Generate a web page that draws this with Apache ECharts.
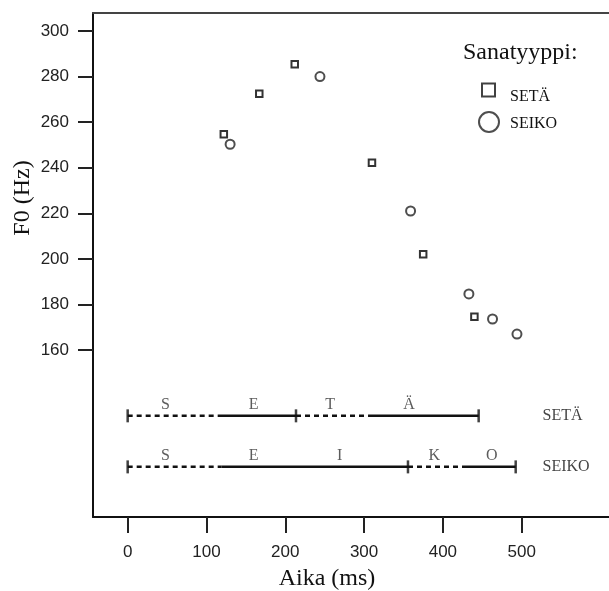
<!DOCTYPE html>
<html>
<head>
<meta charset="utf-8">
<script src="https://cdn.jsdelivr.net/npm/echarts@6/dist/echarts.min.js"></script>
<style>
  html, body { margin: 0; padding: 0; background: #fff; }
  #chart { width: 609px; height: 591px; }
</style>
</head>
<body>
<div id="chart"></div>
<script>
// pisteet (ms, Hz)
const setaX = [122, 167, 212, 310, 375, 440]
const setaY = [254.7, 272.5, 285.4, 242.2, 202, 174.6]
const seikoX = [130, 244, 359, 433, 463, 494]
const seikoY = [250.3, 280, 221, 184.6, 173.6, 167]

// akselin jaot
const xTicks = [0, 100, 200, 300, 400, 500]
const yTicks = [160, 180, 200, 220, 240, 260, 280, 300]

// segmentit: rajat (ms), viivatyyli, äänteet ja niiden kohdat
const rowNames = ['SETÄ', 'SEIKO']
const rowY = [131.1, 108.7]
const setaBounds = [0, 114.6, 213.6, 306.2, 445.4]
const setaStyles = ['dashed', 'solid', 'dashed', 'solid']
const setaTickAt = [0, 213.6, 445.4]
const setaPhones = ['S', 'E', 'T', 'Ä']
const setaPhoneX = [48, 160, 257, 357]
const seikoBounds = [0, 119.3, 355.7, 425.5, 492.4]
const seikoStyles = ['dashed', 'solid', 'dashed', 'solid']
const seikoTickAt = [0, 355.7, 492.4]
const seikoPhones = ['S', 'E', 'I', 'K', 'O']
const seikoPhoneX = [48, 160, 269, 389, 462]
const rowNameX = 526.5

const ink = '#111'
const serif = 'Liberation Serif'

const segSeries = []
function addRow(bounds, styles, y) {
  for (let i = 0; i < styles.length; i++) {
    segSeries.push({
      type: 'line',
      silent: true,
      showSymbol: false,
      symbol: 'none',
      data: [[bounds[i], y], [bounds[i + 1], y]],
      lineStyle: {
        color: ink,
        width: 2.5,
        type: styles[i] === 'dashed' ? [5, 4] : 'solid'
      },
      z: 3
    })
  }
}
addRow(setaBounds, setaStyles, rowY[0])
addRow(seikoBounds, seikoStyles, rowY[1])

const tickData = setaTickAt.map(v => [v, rowY[0]]).concat(seikoTickAt.map(v => [v, rowY[1]]))
const phoneData = setaPhones.map((p, i) => [setaPhoneX[i], rowY[0], p])
  .concat(seikoPhones.map((p, i) => [seikoPhoneX[i], rowY[1], p]))
const rowNameData = rowNames.map((n, i) => [rowNameX, rowY[i], n])

const chart = echarts.init(document.getElementById('chart'))

const option = {
  animation: false,
  title: {
    text: 'Sanatyyppi:',
    left: 463,
    top: 41,
    padding: 0,
    textStyle: { fontFamily: serif, fontSize: 24, fontWeight: 'normal', color: ink }
  },
  legend: [
    {
      data: [{ name: 'SETÄ', icon: 'rect' }],
      left: 481,
      top: 82.5,
      padding: 0,
      itemWidth: 13,
      itemHeight: 13,
      itemStyle: { color: '#fff', borderColor: ink, borderWidth: 2 },
      formatter: '{t|{name}}',
      textStyle: {
        rich: { t: { fontFamily: serif, fontSize: 16, color: ink, padding: [14, 0, 0, 10] } }
      }
    },
    {
      data: [{ name: 'SEIKO', icon: 'circle' }],
      left: 478,
      top: 111,
      padding: 0,
      itemWidth: 20,
      itemHeight: 20,
      itemStyle: { color: '#fff', borderColor: '#222', borderWidth: 2 },
      formatter: '{t|{name}}',
      textStyle: {
        rich: { t: { fontFamily: serif, fontSize: 16, color: ink, padding: [3, 0, 0, 6] } }
      }
    }
  ],
  grid: {
    left: 93,
    top: 13,
    right: 0,
    bottom: 74
  },
  xAxis: [
    {
      type: 'value',
      min: -44,
      max: 610.8,
      axisLine: { show: true, onZero: false, lineStyle: { color: ink, width: 2 } },
      axisTick: { show: true, length: 16, customValues: xTicks, lineStyle: { color: '#222', width: 2 } },
      axisLabel: { customValues: xTicks, margin: 27, color: '#222', fontFamily: 'Liberation Sans', fontSize: 17 },
      splitLine: { show: false }
    },
    {
      type: 'value',
      position: 'top',
      min: -44,
      max: 610.8,
      axisLine: { show: true, onZero: false, lineStyle: { color: '#444', width: 2 } },
      axisTick: { show: false },
      axisLabel: { show: false },
      splitLine: { show: false }
    }
  ],
  yAxis: {
    type: 'value',
    min: 86.7,
    max: 307.9,
    axisLine: { show: true, onZero: false, lineStyle: { color: ink, width: 2 } },
    axisTick: { show: true, length: 15, customValues: yTicks, lineStyle: { color: '#222', width: 2 } },
    axisLabel: { customValues: yTicks, margin: 24, color: '#222', fontFamily: 'Liberation Sans', fontSize: 17 },
    splitLine: { show: false }
  },
  graphic: [
    {
      type: 'text',
      x: 23,
      y: 198,
      rotation: Math.PI / 2,
      style: { text: 'F0 (Hz)', font: '24px "Liberation Serif"', fill: ink, align: 'center', verticalAlign: 'middle' }
    },
    {
      type: 'text',
      x: 327,
      y: 579,
      style: { text: 'Aika (ms)', font: '24px "Liberation Serif"', fill: ink, align: 'center', verticalAlign: 'middle' }
    }
  ],
  series: [
    {
      name: 'SETÄ',
      type: 'scatter',
      symbol: 'rect',
      symbolSize: 6.5,
      data: setaX.map((x, i) => [x, setaY[i]]),
      itemStyle: { color: '#fff', borderColor: '#000', borderWidth: 2 },
      z: 5
    },
    {
      name: 'SEIKO',
      type: 'scatter',
      symbol: 'circle',
      symbolSize: 9,
      data: seikoX.map((x, i) => [x, seikoY[i]]),
      itemStyle: { color: '#fff', borderColor: '#222', borderWidth: 2 },
      z: 5
    },
    ...segSeries,
    {
      type: 'scatter',
      silent: true,
      symbol: 'rect',
      symbolSize: [2.5, 13],
      data: tickData,
      itemStyle: { color: ink },
      z: 4
    },
    {
      type: 'scatter',
      silent: true,
      symbolSize: 0,
      data: phoneData,
      label: {
        show: true,
        position: 'top',
        distance: 3,
        formatter: p => p.value[2],
        fontFamily: serif,
        fontSize: 16,
        color: '#333'
      }
    },
    {
      type: 'scatter',
      silent: true,
      symbolSize: 0,
      data: rowNameData,
      label: {
        show: true,
        position: 'right',
        distance: 0,
        formatter: p => p.value[2],
        fontFamily: serif,
        fontSize: 16,
        color: ink
      }
    }
  ]
}

chart.setOption(option)
</script>
</body>
</html>
